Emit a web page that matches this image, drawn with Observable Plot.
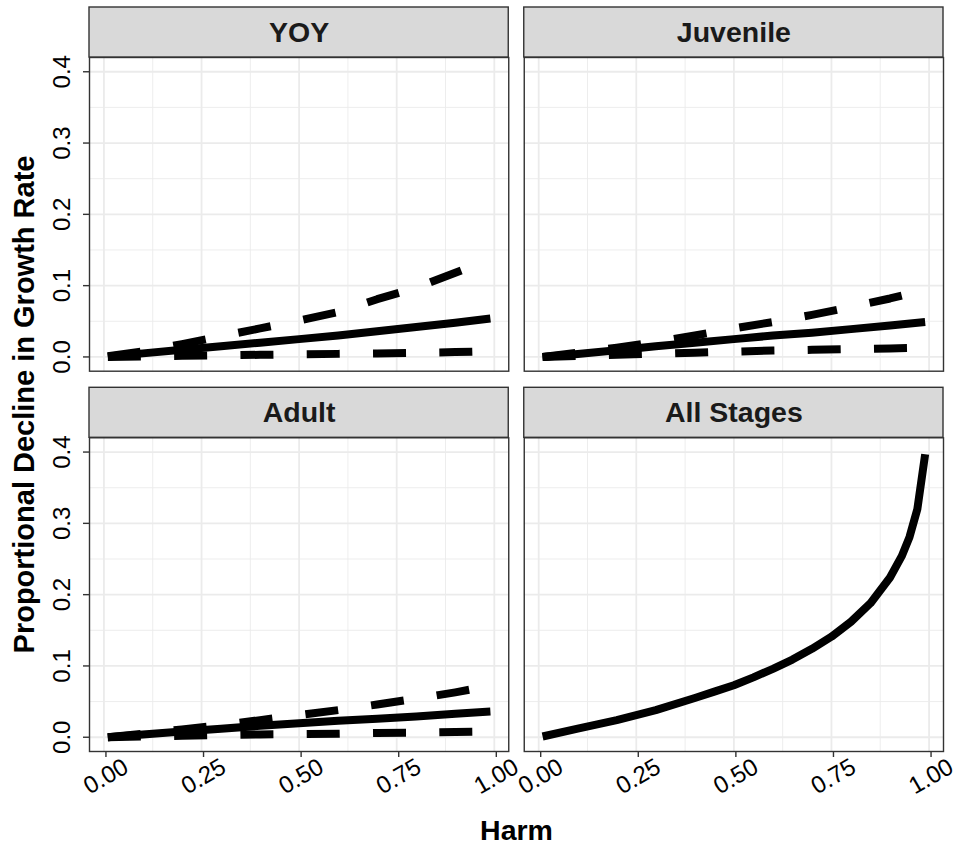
<!DOCTYPE html>
<html>
<head>
<meta charset="utf-8">
<script src="https://cdn.jsdelivr.net/npm/d3@7"></script>
<script src="https://cdn.jsdelivr.net/npm/@observablehq/plot@0.6"></script>
<style>
  html, body { margin: 0; padding: 0; background: #ffffff; }
  #chart { width: 958px; height: 845px; }
</style>
</head>
<body>
<div id="chart"></div>
<script>
// ---- Data ----
const panels = ["YOY", "Juvenile", "Adult", "All Stages"];

const harm = [0.01, 0.1, 0.2, 0.3, 0.4, 0.5, 0.6, 0.7, 0.8, 0.9, 0.99];

const yoyMedian = [0.0005, 0.005, 0.010, 0.015, 0.020, 0.025, 0.030, 0.036, 0.042, 0.048, 0.054];
const yoyUpper  = [0.001, 0.008, 0.018, 0.029, 0.040, 0.051, 0.063, 0.081, 0.097, 0.118, 0.137];
const yoyLower  = [0.0, 0.0008, 0.0015, 0.0022, 0.003, 0.0037, 0.0043, 0.005, 0.0058, 0.0068, 0.008];

const juvMedian = [0.0, 0.004, 0.0095, 0.015, 0.020, 0.025, 0.030, 0.034, 0.039, 0.044, 0.049];
const juvUpper  = [0.0, 0.006, 0.013, 0.021, 0.030, 0.040, 0.049, 0.059, 0.070, 0.082, 0.094];
const juvLower  = [0.0, 0.0015, 0.003, 0.0045, 0.006, 0.0075, 0.009, 0.010, 0.011, 0.012, 0.013];

const adultMedian = [0.0, 0.004, 0.008, 0.012, 0.016, 0.0195, 0.023, 0.026, 0.029, 0.033, 0.036];
const adultUpper  = [0.0, 0.005, 0.011, 0.017, 0.024, 0.031, 0.038, 0.046, 0.054, 0.063, 0.072];
const adultLower  = [0.0, 0.001, 0.002, 0.003, 0.004, 0.0045, 0.005, 0.006, 0.0065, 0.0075, 0.008];

const allHarm   = [0.01, 0.1, 0.2, 0.3, 0.4, 0.45, 0.5, 0.55, 0.6, 0.65, 0.7, 0.75, 0.8, 0.85, 0.9, 0.93, 0.95, 0.97, 0.99];
const allMedian = [0.001, 0.012, 0.024, 0.038, 0.055, 0.064, 0.073, 0.084, 0.096, 0.109, 0.124, 0.141, 0.162, 0.188, 0.224, 0.254, 0.281, 0.320, 0.397];

const xTicks = [0, 0.25, 0.5, 0.75, 1];
const xMinor = [0.125, 0.375, 0.625, 0.875];
const yTicks = [0, 0.1, 0.2, 0.3, 0.4];
const yMinor = [0.05, 0.15, 0.25, 0.35];

// ---- Build tables ----
const strips = panels.map((p, i) => ({panel: p, col: i % 2, row: Math.floor(i / 2)}));
const stripOf = p => strips.find(s => s.panel === p);

function series(panel, xs, ys, kind) {
  const s = stripOf(panel);
  return xs.map((x, i) => ({panel, col: s.col, row: s.row, kind, key: panel + "-" + kind, harm: x, decline: ys[i]}));
}

const solidRows = [
  ...series("YOY", harm, yoyMedian, "median"),
  ...series("Juvenile", harm, juvMedian, "median"),
  ...series("Adult", harm, adultMedian, "median"),
  ...series("All Stages", allHarm, allMedian, "median")
];
const dashedRows = [
  ...series("YOY", harm, yoyUpper, "upper"),
  ...series("YOY", harm, yoyLower, "lower"),
  ...series("Juvenile", harm, juvUpper, "upper"),
  ...series("Juvenile", harm, juvLower, "lower"),
  ...series("Adult", harm, adultUpper, "upper"),
  ...series("Adult", harm, adultLower, "lower")
];

// ---- Layout ----
const W = 958, H = 845;
const mL = 89, mR = 15, mT = 57, mB = 94;
const colGap = 15.5, rowGap = 66.6, stripH = 50;
const facetW = (W - mL - mR - colGap) / 2;
const facetH = (H - mT - mB - rowGap) / 2;
const xDom = [-0.037, 1.037];
const yDom = [-0.02, 0.42];
const stripUnits = stripH * (yDom[1] - yDom[0]) / facetH;

const gridColor = "#ebebeb";
const border = "#333333";
const font = "'Liberation Sans', Arial, Helvetica, sans-serif";

const chart = Plot.plot({
  width: W,
  height: H,
  marginLeft: mL,
  marginRight: mR,
  marginTop: mT,
  marginBottom: mB,
  style: {fontFamily: font, background: "#ffffff", overflow: "visible"},
  fx: {domain: [0, 1], axis: null, paddingInner: colGap / (facetW + colGap), paddingOuter: 0, round: false},
  fy: {domain: [0, 1], axis: null, paddingInner: rowGap / (facetH + rowGap), paddingOuter: 0, round: false},
  x: {domain: xDom},
  y: {domain: yDom},
  marks: [
    // grid
    Plot.ruleX(xMinor, {stroke: gridColor, strokeWidth: 0.9}),
    Plot.ruleY(yMinor, {stroke: gridColor, strokeWidth: 0.9}),
    Plot.ruleX(xTicks, {stroke: gridColor, strokeWidth: 1.8}),
    Plot.ruleY(yTicks, {stroke: gridColor, strokeWidth: 1.8}),
    // data
    Plot.line(dashedRows, {
      x: "harm", y: "decline", z: "key", fx: "col", fy: "row",
      stroke: "black", strokeWidth: 8, strokeDasharray: "33,33.3",
      strokeLinecap: "butt", strokeLinejoin: "round"
    }),
    Plot.line(solidRows, {
      x: "harm", y: "decline", z: "key", fx: "col", fy: "row",
      stroke: "black", strokeWidth: 8, strokeLinecap: "butt", strokeLinejoin: "round"
    }),
    // panel border
    Plot.frame({stroke: border, strokeWidth: 1.4}),
    // strips
    Plot.rect(strips, {
      fx: "col", fy: "row",
      x1: () => xDom[0], x2: () => xDom[1],
      y1: () => yDom[1], y2: () => yDom[1] + stripUnits,
      fill: "#d9d9d9", stroke: border, strokeWidth: 1.4, clip: false
    }),
    Plot.text(strips, {
      fx: "col", fy: "row", text: "panel",
      frameAnchor: "top", dy: -stripH / 2, lineAnchor: "middle",
      fontSize: 28.5, fontWeight: "bold", fill: "#1a1a1a"
    }),
    // axes
    Plot.axisX({
      ticks: xTicks, tickFormat: d3.format(".2f"), tickRotate: -30,
      textAnchor: "middle", lineAnchor: "middle",
      tickSize: 6, tickPadding: 19, dx: 2,
      fontSize: 24, fill: "black", stroke: border, strokeWidth: 1.4,
      label: null
    }),
    Plot.axisY({
      ticks: yTicks, tickFormat: d3.format(".1f"), tickRotate: -90,
      textAnchor: "middle", lineAnchor: "bottom",
      tickSize: 6, tickPadding: 14,
      fontSize: 24, fill: "black", stroke: border, strokeWidth: 1.4,
      label: null
    }),
    Plot.axisX({
      ticks: [], tickSize: 0, label: "Harm", labelAnchor: "center", labelArrow: "none",
      labelOffset: 88, fontSize: 28.5, fontWeight: "bold", fill: "black"
    }),
    Plot.axisY({
      ticks: [], tickSize: 0, label: "Proportional Decline in Growth Rate",
      labelAnchor: "center", labelArrow: "none",
      labelOffset: 76, fontSize: 29, fontWeight: "bold", fill: "black"
    })
  ]
});

document.getElementById("chart").appendChild(chart);
</script>
</body>
</html>
